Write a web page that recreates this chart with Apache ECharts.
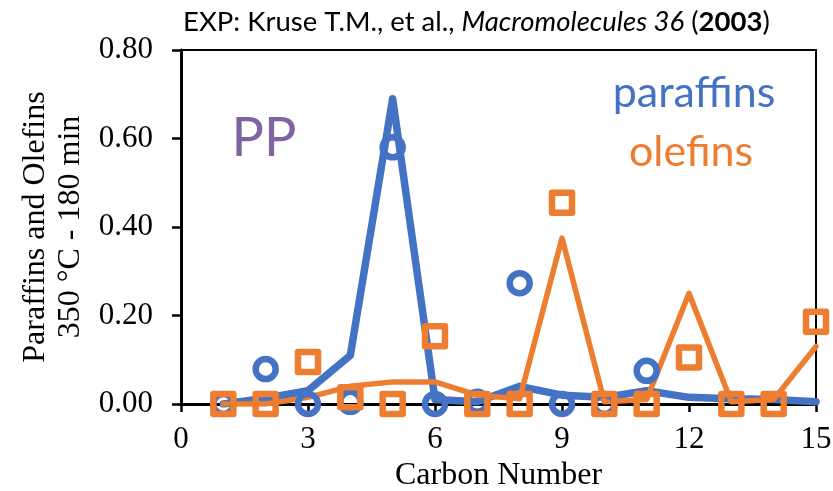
<!DOCTYPE html>
<html>
<head>
<meta charset="utf-8">
<script src="https://cdn.jsdelivr.net/npm/echarts@6/dist/echarts.min.js"></script>
<style>html,body{margin:0;padding:0;background:#fff;}#c{width:833px;height:491px;}</style>
</head>
<body>
<div id="c"></div>
<script>
// Carbon numbers
const carbon = [1,2,3,4,5,6,7,8,9,10,11,12,13,14,15];
// Model lines
const paraffinsModel = [0.0,0.013,0.03,0.11,0.69,0.01,0.005,0.04,0.02,0.015,0.03,0.015,0.012,0.01,0.005];
const olefinsModel   = [0.0,0.0,0.015,0.04,0.05,0.05,0.02,0.012,0.375,0.005,0.01,0.25,0.005,0.01,0.13];
// Experimental points
const paraffinsExp = [0.0,0.079,0.0,0.005,0.58,0.0,0.005,0.273,0.0,0.0,0.075,null,null,null,null];
const olefinsExp   = [0.0,0.0,0.095,0.015,0.0,0.153,0.0,0.0,0.455,0.0,0.0,0.105,0.0,0.0,0.186];
// Axis ticks
const xTicks = [0,3,6,9,12,15];
const yTicks = [0.00,0.20,0.40,0.60,0.80];

const BLUE = '#4472C4', ORANGE = '#ED7D31', PURPLE = '#8064A2';
const pairs = arr => carbon.map((c,i) => [c, arr[i]]).filter(p => p[1] !== null);

const chart = echarts.init(document.getElementById('c'));
chart.setOption({
  animation: false,
  backgroundColor: '#fff',
  title: {
    left: 178, top: 3,
    text: '{n|EXP: Kruse T.M., et al., }{i|Macromolecules 36}{n| (}{b|2003}{n|)}',
    textStyle: {
      fontWeight: 'normal',
      rich: {
        n: {fontFamily: 'Lato', fontSize: 27.5, fontWeight: 'normal', color: '#000'},
        i: {fontFamily: 'Lato', fontSize: 27.5, fontWeight: 'normal', fontStyle: 'italic', color: '#000'},
        b: {fontFamily: 'Lato', fontSize: 27.5, fontWeight: 'bold', color: '#000'}
      }
    }
  },
  grid: {left: 181, right: 17, top: 50, bottom: 87, show: true, borderColor: '#000', borderWidth: 2,
         containLabel: false, outerBoundsMode: 'none'},
  xAxis: {
    type: 'value', min: xTicks[0], max: xTicks[xTicks.length-1], interval: 3,
    name: 'Carbon Number', nameLocation: 'middle', nameGap: 55,
    nameTextStyle: {fontFamily: 'Liberation Serif', fontSize: 32, color: '#000'},
    axisLine: {lineStyle: {color: '#000', width: 3}},
    axisTick: {show: true, length: 8, lineStyle: {color: '#000', width: 2.5}},
    axisLabel: {fontFamily: 'Liberation Serif', fontSize: 31, color: '#000', margin: 20},
    splitLine: {show: false}
  },
  yAxis: {
    type: 'value', min: yTicks[0], max: yTicks[yTicks.length-1], interval: 0.2,
    axisLine: {show: true, lineStyle: {color: '#000', width: 3}},
    axisTick: {show: true, length: 9, lineStyle: {color: '#000', width: 2.5}},
    axisLabel: {fontFamily: 'Liberation Serif', fontSize: 31, color: '#000', margin: 28, formatter: v => v.toFixed(2)},
    splitLine: {show: false}
  },
  graphic: [
    {type: 'text', x: 53, y: 227, rotation: Math.PI/2,
     style: {text: 'Paraffins and Olefins\n350 °C - 180 min', fontFamily: 'Liberation Serif', fontSize: 32, lineHeight: 35, fill: '#000', align: 'center', verticalAlign: 'middle'}},
    {type: 'text', x: 264, y: 139,
     style: {text: 'PP', fontFamily: 'Lato', fontSize: 54, fill: PURPLE, align: 'center', verticalAlign: 'middle'}},
    {type: 'text', x: 694, y: 93,
     style: {text: 'paraffins', fontFamily: 'Lato', fontSize: 43, fill: BLUE, align: 'center', verticalAlign: 'middle'}},
    {type: 'text', x: 691, y: 152,
     style: {text: 'olefins', fontFamily: 'Lato', fontSize: 43, fill: ORANGE, align: 'center', verticalAlign: 'middle'}}
  ],
  series: [
    {name: 'paraffins model', type: 'line', data: pairs(paraffinsModel), showSymbol: false, symbol: 'none',
     lineStyle: {color: BLUE, width: 7.5, join: 'round', cap: 'round'}, z: 2},
    {name: 'olefins model', type: 'line', data: pairs(olefinsModel), showSymbol: false, symbol: 'none',
     lineStyle: {color: ORANGE, width: 5.5, join: 'round', cap: 'round'}, z: 3},
    {name: 'paraffins exp', type: 'scatter', data: pairs(paraffinsExp), symbol: 'circle', symbolSize: 20,
     itemStyle: {color: 'rgba(0,0,0,0)', borderColor: BLUE, borderWidth: 6.5, opacity: 1}, z: 4},
    {name: 'olefins exp', type: 'scatter', data: pairs(olefinsExp), symbol: 'rect', symbolSize: 20,
     itemStyle: {color: 'rgba(0,0,0,0)', borderColor: ORANGE, borderWidth: 6.5, borderJoin: 'round', opacity: 1}, z: 5}
  ]
});
</script>
</body>
</html>
